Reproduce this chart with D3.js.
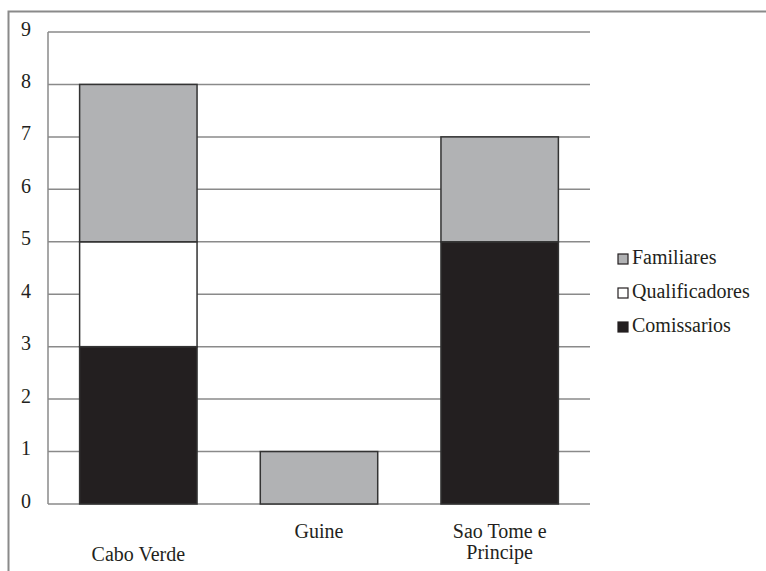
<!DOCTYPE html>
<html>
<head>
<meta charset="utf-8">
<script src="https://cdn.jsdelivr.net/npm/d3@7"></script>
<style>
  body { margin: 0; background: #fff; }
</style>
</head>
<body>
<div id="chart"></div>
<script>
// data
var countries = ["Cabo Verde", "Guine", "Sao Tome e Principe"];
var comissarios = [3, 0, 5];
var qualificadores = [2, 0, 0];
var familiares = [3, 1, 2];
var yTicks = [0, 1, 2, 3, 4, 5, 6, 7, 8, 9];
var seriesNames = ["Comissarios", "Qualificadores", "Familiares"];

var FONT = "'Liberation Serif', 'Times New Roman', Tinos, 'DejaVu Serif', serif";

var W = 766, H = 571;
var margin = {top: 32, right: 176, bottom: 67, left: 48},
    width = W - margin.left - margin.right,
    height = H - margin.top - margin.bottom;

var svg = d3.select("#chart")
    .append("svg")
    .attr("width", W)
    .attr("height", H)
    .style("font-family", FONT);

// outer frame (left + top)
svg.append("path")
    .attr("d", "M8.5," + H + "V11.5H" + W)
    .attr("fill", "none")
    .attr("stroke", "#8a8a8a")
    .attr("stroke-width", 2);

var g = svg.append("g")
    .attr("transform", "translate(" + margin.left + "," + margin.top + ")");

var rows = countries.map(function (c, i) {
    return {country: c, Comissarios: comissarios[i], Qualificadores: qualificadores[i], Familiares: familiares[i]};
});

var stacked = d3.stack().keys(seriesNames)(rows);

var color = d3.scaleOrdinal()
    .domain(seriesNames)
    .range(["#231f20", "#ffffff", "#b1b2b4"]);

var x = d3.scaleBand()
    .domain(countries)
    .range([0, width])
    .paddingInner(0.35)
    .paddingOuter(0.175);

var y = d3.scaleLinear()
    .domain([0, 9])
    .range([height, 0]);

// gridlines
g.append("g")
    .selectAll("line")
    .data(yTicks)
    .enter()
    .append("line")
    .attr("x1", 0)
    .attr("x2", width)
    .attr("y1", function (d) { return y(d); })
    .attr("y2", function (d) { return y(d); })
    .attr("stroke", "#8a8a8a")
    .attr("stroke-width", 1.5);

// vertical axis line
g.append("line")
    .attr("x1", 0).attr("x2", 0)
    .attr("y1", y(0)).attr("y2", y(9))
    .attr("stroke", "#8a8a8a")
    .attr("stroke-width", 1.5);

// y tick labels
g.selectAll(".ytick")
    .data(yTicks)
    .enter()
    .append("text")
    .attr("class", "ytick")
    .attr("x", -17)
    .attr("y", function (d) { return y(d) - 1; })
    .attr("text-anchor", "end")
    .attr("dominant-baseline", "middle")
    .style("font-family", FONT)
    .style("font-size", "20px")
    .style("fill", "#231f20")
    .text(function (d) { return d; });

// bars
g.selectAll(".layer")
    .data(stacked)
    .enter()
    .append("g")
    .attr("class", "layer")
    .attr("fill", function (d) { return color(d.key); })
    .selectAll("rect")
    .data(function (d) { return d.filter(function (v) { return v[1] > v[0]; }); })
    .enter()
    .append("rect")
    .attr("x", function (d) { return x(d.data.country); })
    .attr("y", function (d) { return y(d[1]); })
    .attr("width", x.bandwidth())
    .attr("height", function (d) { return y(d[0]) - y(d[1]); })
    .attr("stroke", "#333")
    .attr("stroke-width", 1.5);

// category labels (staggered like the original)
var labelLines = {
    "Cabo Verde": {dy: 57, lines: ["Cabo Verde"]},
    "Guine": {dy: 34, lines: ["Guine"]},
    "Sao Tome e Principe": {dy: 34, lines: ["Sao Tome e", "Principe"]}
};
countries.forEach(function (c) {
    var info = labelLines[c];
    var t = g.append("text")
        .attr("text-anchor", "middle")
        .style("font-family", FONT)
        .style("font-size", "20px")
        .style("fill", "#231f20")
        .attr("transform", "translate(" + (x(c) + x.bandwidth() / 2) + "," + (height + info.dy) + ")");
    info.lines.forEach(function (line, i) {
        t.append("tspan")
            .attr("x", 0)
            .attr("dy", i === 0 ? 0 : 21)
            .text(line);
    });
});

// legend
var legendOrder = ["Familiares", "Qualificadores", "Comissarios"];
var legend = svg.append("g")
    .attr("transform", "translate(618,259)");
legend.selectAll("rect")
    .data(legendOrder)
    .enter()
    .append("rect")
    .attr("x", 0)
    .attr("y", function (d, i) { return i * 34 - 5; })
    .attr("width", 10)
    .attr("height", 10)
    .attr("fill", function (d) { return color(d); })
    .attr("stroke", "#231f20")
    .attr("stroke-width", 1.2);
legend.selectAll("text")
    .data(legendOrder)
    .enter()
    .append("text")
    .attr("x", 14)
    .attr("y", function (d, i) { return i * 34; })
    .attr("dominant-baseline", "middle")
    .style("font-family", FONT)
    .style("font-size", "20px")
    .style("fill", "#231f20")
    .text(function (d) { return d; });
</script>
</body>
</html>
